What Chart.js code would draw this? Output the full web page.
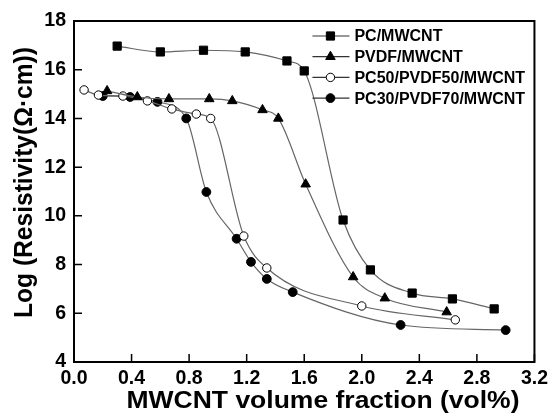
<!DOCTYPE html>
<html>
<head>
<meta charset="utf-8">
<script src="https://cdn.jsdelivr.net/npm/chart.js@4"></script>
<style>
  body { margin: 0; background: #fff; }
  #wrap { width: 553px; height: 415px; }
</style>
</head>
<body>
<div id="wrap"><canvas id="chart"></canvas></div>
<script>
// values: [MWCNT vol%, log resistivity]
const seriesNames = ['PC/MWCNT', 'PVDF/MWCNT', 'PC50/PVDF50/MWCNT', 'PC30/PVDF70/MWCNT'];

const pcX = [0.30, 0.60, 0.90, 1.19, 1.48, 1.60, 1.87, 2.06, 2.35, 2.63, 2.92];
const pcY = [16.97, 16.73, 16.80, 16.73, 16.36, 15.95, 9.83, 7.78, 6.83, 6.59, 6.18];

const pvdfX = [0.23, 0.44, 0.66, 0.94, 1.10, 1.31, 1.42, 1.61, 1.94, 2.16, 2.59];
const pvdfY = [15.13, 14.88, 14.80, 14.80, 14.72, 14.35, 14.00, 11.30, 7.49, 6.62, 6.05];

const pc50X = [0.07, 0.17, 0.34, 0.51, 0.68, 0.85, 0.95, 1.18, 1.34, 2.00, 2.65];
const pc50Y = [15.17, 14.96, 14.92, 14.72, 14.39, 14.18, 14.00, 9.17, 7.86, 6.30, 5.73];

const pc30X = [0.20, 0.39, 0.58, 0.78, 0.92, 1.13, 1.23, 1.34, 1.52, 2.27, 3.00];
const pc30Y = [14.92, 14.88, 14.68, 14.00, 10.98, 9.06, 8.11, 7.41, 6.87, 5.52, 5.31];

const xTicks = [0.0, 0.4, 0.8, 1.2, 1.6, 2.0, 2.4, 2.8, 3.2];
const yTicks = [4, 6, 8, 10, 12, 14, 16, 18];

const xTitle = 'MWCNT volume fraction (vol%)';
const yTitle = 'Log (Resistivity(Ω·cm))';

const toPoints = (xs, ys) => xs.map((x, i) => ({ x: x, y: ys[i] }));

const markers = [
  { style: 'rect', radius: 5.8, fill: '#000' },
  { style: 'triangle', radius: 5.5, fill: '#000' },
  { style: 'circle', radius: 4.2, fill: '#fff' },
  { style: 'circle', radius: 4.4, fill: '#000' },
];

const allData = [
  toPoints(pcX, pcY),
  toPoints(pvdfX, pvdfY),
  toPoints(pc50X, pc50Y),
  toPoints(pc30X, pc30Y),
];

const datasets = allData.map((pts, i) => ({
  label: seriesNames[i],
  data: pts,
  showLine: true,
  borderColor: '#666',
  borderWidth: 1.2,
  cubicInterpolationMode: 'monotone',
  pointStyle: markers[i].style,
  pointRadius: markers[i].radius,
  pointHoverRadius: markers[i].radius,
  pointBackgroundColor: markers[i].fill,
  pointBorderColor: '#000',
  pointBorderWidth: 1,
}));

const FONT = '"Liberation Sans", Arial, sans-serif';

// box around the plot, inward ticks, axis titles, legend inside the plot
const framePlugin = {
  id: 'frame',
  beforeDatasetsDraw(chart) {
    const { ctx, chartArea: a, scales } = chart;
    ctx.save();
    ctx.strokeStyle = '#000';
    ctx.lineWidth = 2;
    ctx.strokeRect(a.left, a.top, a.right - a.left, a.bottom - a.top);
    ctx.lineWidth = 1.5;
    ctx.beginPath();
    xTicks.forEach(v => {
      const px = scales.x.getPixelForValue(v);
      ctx.moveTo(px, a.bottom);
      ctx.lineTo(px, a.bottom - 8);
    });
    yTicks.forEach(v => {
      const py = scales.y.getPixelForValue(v);
      ctx.moveTo(a.left, py);
      ctx.lineTo(a.left + 8, py);
    });
    ctx.stroke();

    // axis titles: the original lettering is a bit wider than Liberation Sans
    ctx.fillStyle = '#000';
    ctx.textAlign = 'center';
    ctx.textBaseline = 'alphabetic';

    ctx.save();
    ctx.font = 'bold 23.2px ' + FONT;
    const sx = 393 / ctx.measureText(xTitle).width;
    ctx.translate(323, 408);
    ctx.scale(sx, 1);
    ctx.fillText(xTitle, 0, 0);
    ctx.restore();

    ctx.save();
    ctx.font = 'bold 20px ' + FONT;
    const ySize = 20 * 271 / ctx.measureText(yTitle).width;
    ctx.font = 'bold ' + ySize + 'px ' + FONT;
    ctx.translate(31.5, 182.5);
    ctx.scale(18.5 / (0.716 * ySize), 1);
    ctx.rotate(-Math.PI / 2);
    ctx.fillText(yTitle, 0, 0);
    ctx.restore();

    ctx.restore();
  },
  afterDraw(chart) {
    const { ctx, chartArea: a } = chart;
    ctx.save();
    ctx.font = 'bold 16px ' + FONT;
    ctx.textBaseline = 'middle';
    const x0 = a.right - 222;
    seriesNames.forEach((name, i) => {
      const yy = a.top + 15 + i * 20.7;
      ctx.strokeStyle = '#333';
      ctx.lineWidth = 1.2;
      ctx.beginPath();
      ctx.moveTo(x0, yy);
      ctx.lineTo(x0 + 37, yy);
      ctx.stroke();
      ctx.fillStyle = markers[i].fill;
      ctx.strokeStyle = '#000';
      ctx.lineWidth = 1;
      Chart.helpers.drawPoint(ctx, { pointStyle: markers[i].style, radius: markers[i].radius, rotation: 0, borderWidth: 1 }, x0 + 18, yy);
      ctx.fillStyle = '#000';
      ctx.fillText(name, x0 + 42, yy + 1);
    });
    ctx.restore();
  }
};

const tickFont = { family: FONT, size: 19.5, weight: 'bold' };

new Chart(document.getElementById('chart'), {
  type: 'scatter',
  data: { datasets: datasets },
  options: {
    responsive: true,
    maintainAspectRatio: false,
    animation: false,
    layout: { padding: { left: 10, top: 21, right: 16, bottom: 1 } },
    plugins: { legend: { display: false }, tooltip: { enabled: false } },
    scales: {
      x: {
        type: 'linear',
        min: 0,
        max: 3.2,
        afterBuildTicks: s => { s.ticks = xTicks.map(v => ({ value: v })); },
        afterFit: s => { s.height = 52; },
        grid: { display: false, drawTicks: false },
        border: { display: false },
        ticks: {
          color: '#000',
          font: tickFont,
          padding: 5,
          maxRotation: 0,
          callback: v => v.toFixed(1),
        },
      },
      y: {
        type: 'linear',
        min: 4,
        max: 18,
        afterBuildTicks: s => { s.ticks = yTicks.map(v => ({ value: v })); },
        afterFit: s => { s.width = 64; },
        grid: { display: false, drawTicks: false },
        border: { display: false },
        ticks: { color: '#000', font: tickFont, padding: 8 },
      },
    },
  },
  plugins: [framePlugin],
});
</script>
</body>
</html>
